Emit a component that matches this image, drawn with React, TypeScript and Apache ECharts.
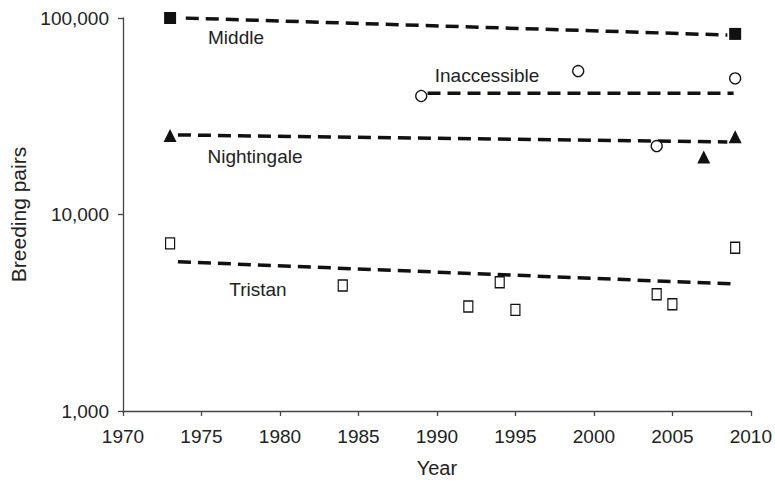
import React, { useEffect, useRef } from "react";
import * as echarts from "echarts";

// ---- Data ----
const middleYears = [1973, 2009];
const middleValues = [100000, 83000];
const inaccessibleYears = [1989, 1999, 2004, 2009];
const inaccessibleValues = [40100, 53700, 22300, 49300];
const nightingaleYears = [1973, 2007, 2009];
const nightingaleValues = [25200, 19600, 24900];
const tristanYears = [1973, 1984, 1992, 1994, 1995, 2004, 2005, 2009];
const tristanValues = [7130, 4350, 3400, 4520, 3270, 3930, 3490, 6780];

// Trend lines (start / end)
const middleTrendYears = [1974, 2008.5];
const middleTrendValues = [100000, 81900];
const inaccessibleTrendYears = [1989.4, 2008.9];
const inaccessibleTrendValues = [41400, 41400];
const nightingaleTrendYears = [1973.5, 2008.5];
const nightingaleTrendValues = [25400, 23400];
const tristanTrendYears = [1973.5, 2008.9];
const tristanTrendValues = [5750, 4430];

const yTicks = [1000, 10000, 100000];
const colonyNames = ["Middle", "Inaccessible", "Nightingale", "Tristan"];

const zip = (xs: number[], ys: number[]) => xs.map((x, i) => [x, ys[i]]);

const INK = "#111";
const TEXT = "#222";
const FONT = "'Liberation Sans', Arial, sans-serif";

export default function App() {
  const ref = useRef<HTMLDivElement>(null);
  useEffect(() => {
    if (!ref.current) return;
    const chart = echarts.init(ref.current, undefined, { renderer: "svg" });

    const trend = (name: string, xs: number[], ys: number[]) => ({
      name: name + " trend",
      type: "line",
      data: zip(xs, ys),
      symbol: "none",
      z: 2,
      lineStyle: { color: INK, width: 3.5, type: [13, 7] },
    });
    const pts = (name: string, xs: number[], ys: number[], symbol: string, size: any, filled: boolean) => ({
      name,
      type: "scatter",
      data: zip(xs, ys),
      symbol,
      symbolSize: size,
      z: 3,
      itemStyle: filled
        ? { color: INK, opacity: 1 }
        : { color: "#fff", borderColor: INK, borderWidth: 1.3, opacity: 1 },
    });

    const label = (text: string, x: number, y: number) => ({
      type: "text",
      x,
      y,
      style: {
        text,
        fill: TEXT,
        font: `19px ${FONT}`,
        textAlign: "center",
        textVerticalAlign: "middle",
      },
    });

    chart.setOption({
      animation: false,
      textStyle: { fontFamily: FONT },
      grid: { left: 123, right: 22, top: 18, bottom: 74, containLabel: false },
      xAxis: {
        type: "value",
        min: 1970,
        max: 2010,
        interval: 5,
        name: "Year",
        nameLocation: "middle",
        nameGap: 47,
        nameTextStyle: { fontSize: 20, color: TEXT, fontFamily: FONT },
        axisLine: { show: true, lineStyle: { color: "#444", width: 1.3 } },
        axisTick: { show: true, length: 5, lineStyle: { color: "#444", width: 1.3 } },
        axisLabel: {
          fontSize: 19,
          color: TEXT,
          margin: 16,
          fontFamily: FONT,
          formatter: (v: number) => String(v),
        },
        splitLine: { show: false },
      },
      yAxis: {
        type: "log",
        logBase: 10,
        min: yTicks[0],
        max: yTicks[yTicks.length - 1],
        name: "Breeding pairs",
        nameLocation: "middle",
        nameGap: 88,
        nameTextStyle: { fontSize: 21, color: TEXT, fontFamily: FONT },
        axisLine: { show: true, lineStyle: { color: "#444", width: 1.3 } },
        axisTick: { show: true, length: 5, lineStyle: { color: "#444", width: 1.3 } },
        minorTick: { show: false },
        axisLabel: {
          fontSize: 19,
          color: TEXT,
          margin: 14,
          fontFamily: FONT,
          formatter: (v: number) => Math.round(v).toLocaleString("en-US"),
        },
        splitLine: { show: false },
      },
      series: [
        trend(colonyNames[0], middleTrendYears, middleTrendValues),
        trend(colonyNames[1], inaccessibleTrendYears, inaccessibleTrendValues),
        trend(colonyNames[2], nightingaleTrendYears, nightingaleTrendValues),
        trend(colonyNames[3], tristanTrendYears, tristanTrendValues),
        pts(colonyNames[0], middleYears, middleValues, "rect", 12, true),
        pts(colonyNames[1], inaccessibleYears, inaccessibleValues, "circle", 11, false),
        pts(colonyNames[2], nightingaleYears, nightingaleValues, "triangle", 13, true),
        pts(colonyNames[3], tristanYears, tristanValues, "rect", [9, 11], false),
      ],
      graphic: [
        label(colonyNames[0], 236, 37),
        label(colonyNames[1], 487, 75),
        label(colonyNames[2], 255, 156),
        label(colonyNames[3], 258, 289),
      ],
    });
    return () => chart.dispose();
  }, []);
  return (
    <div
      ref={ref}
      style={{ position: "fixed", left: 0, top: 0, width: 775, height: 485, background: "#fff" }}
    />
  );
}
